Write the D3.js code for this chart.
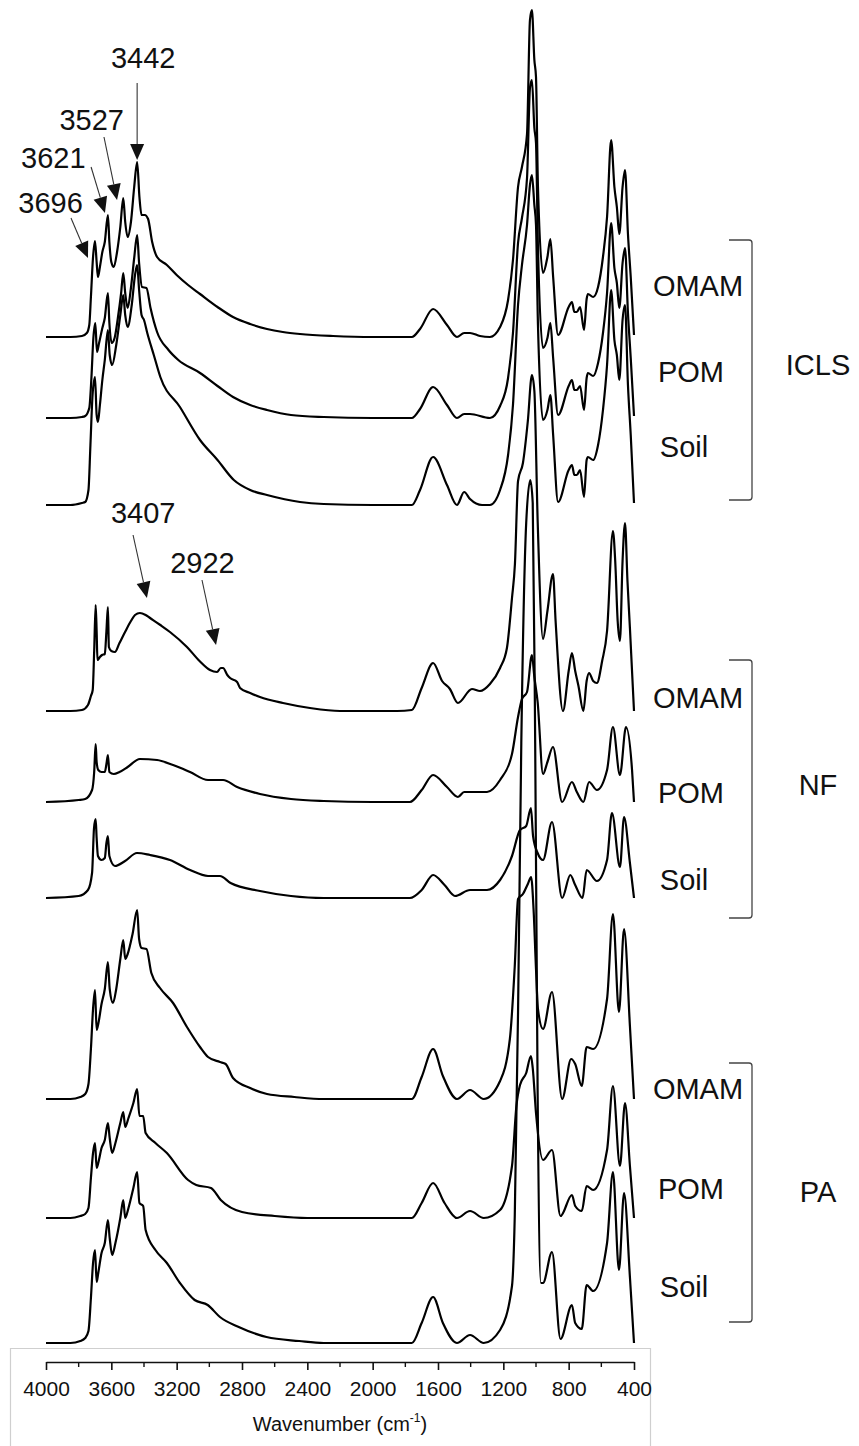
<!DOCTYPE html>
<html>
<head>
<meta charset="utf-8">
<script src="https://cdn.jsdelivr.net/npm/d3@7"></script>
<style>
body { margin: 0; background: #fff; }
text { font-family: "Liberation Sans", Arial, sans-serif; fill: #111; }
</style>
</head>
<body>
<div id="vis"></div>
<script>
// FTIR spectra, intensity in arbitrary units, [wavenumber, intensity]
var iclsOmam = [[4000,0],[3850,0],[3780,1],[3750,4],[3735,12],[3725,40],[3712,80],[3700,96],[3690,75],[3682,60],[3670,70],[3655,85],[3640,95],[3621,122],[3612,95],[3600,75],[3585,70],[3565,85],[3545,110],[3527,139],[3515,115],[3500,100],[3480,115],[3460,150],[3442,175],[3428,140],[3415,122],[3395,122],[3375,118],[3350,95],[3320,80],[3260,72],[3200,62],[3130,52],[3057,43],[2950,30],[2855,20],[2750,13],[2647,8],[2550,5],[2445,3],[2243,1],[2000,0],[1850,0],[1760,0],[1710,8],[1630,28],[1545,12],[1484,0],[1440,4],[1404,4],[1343,1],[1282,0],[1220,10],[1171,37],[1141,77],[1110,150],[1086,170],[1055,203],[1037,317],[1025,327],[1010,277],[1000,260],[988,150],[957,64],[930,80],[912,98],[895,60],[865,2],[800,30],[780,35],[765,25],[750,25],[730,30],[706,7],[690,38],[682,43],[650,40],[620,50],[590,80],[565,120],[540,197],[520,150],[505,130],[490,103],[470,150],[455,167],[437,103],[420,60],[400,2]];
var iclsPom = [[4000,0],[3850,0],[3780,1],[3760,2],[3735,10],[3722,40],[3710,80],[3698,95],[3688,66],[3675,75],[3655,90],[3640,100],[3621,125],[3612,95],[3598,75],[3580,80],[3560,100],[3540,125],[3527,145],[3515,125],[3500,110],[3480,130],[3460,160],[3442,183],[3430,155],[3412,131],[3385,130],[3360,110],[3320,86],[3250,68],[3190,58],[3057,45],[2950,32],[2855,21],[2750,13],[2647,8],[2500,3],[2300,1],[2000,0],[1850,0],[1760,0],[1710,9],[1630,31],[1545,13],[1484,0],[1440,4],[1404,4],[1282,0],[1220,12],[1171,40],[1141,85],[1110,175],[1086,200],[1055,240],[1037,330],[1025,338],[1010,290],[1000,275],[988,170],[957,70],[930,80],[912,95],[895,60],[865,3],[800,32],[780,38],[765,28],[750,28],[730,32],[706,8],[690,40],[682,45],[650,42],[620,55],[590,85],[565,125],[540,195],[520,150],[505,135],[490,110],[470,155],[455,170],[437,105],[420,60],[400,2]];
var iclsSoil = [[4000,0],[3850,0],[3780,2],[3760,3],[3740,15],[3728,60],[3715,110],[3700,128],[3690,90],[3682,83],[3670,100],[3655,125],[3640,145],[3621,175],[3610,150],[3595,140],[3570,160],[3545,190],[3527,210],[3515,190],[3500,178],[3475,200],[3455,230],[3442,240],[3430,215],[3415,190],[3400,185],[3380,172],[3340,150],[3300,128],[3180,98],[3057,65],[2950,45],[2850,25],[2750,15],[2647,10],[2445,3],[2300,1],[2000,0],[1850,0],[1760,0],[1710,15],[1630,48],[1545,20],[1484,0],[1440,13],[1404,6],[1330,0],[1282,0],[1220,15],[1171,50],[1141,100],[1110,200],[1086,240],[1055,280],[1037,320],[1025,330],[1010,300],[1000,280],[988,180],[957,85],[930,95],[912,110],[895,70],[865,3],[800,35],[780,40],[765,30],[750,30],[730,35],[706,8],[690,45],[682,48],[650,45],[620,60],[590,95],[565,140],[540,215],[520,165],[505,150],[490,125],[470,185],[455,200],[437,120],[420,70],[400,2]];

var nfOmam = [[4000,0],[3850,0],[3780,1],[3743,6],[3725,15],[3714,21],[3705,60],[3696,106],[3690,80],[3685,51],[3670,54],[3657,56],[3640,57],[3630,80],[3621,104],[3615,64],[3600,60],[3578,59],[3550,68],[3516,79],[3480,90],[3455,96],[3425,98],[3390,96],[3363,93],[3300,86],[3241,79],[3137,64],[3060,50],[2996,41],[2953,39],[2930,43],[2916,43],[2890,36],[2873,33],[2830,29],[2812,23],[2750,18],[2690,14],[2549,8],[2384,3],[2200,0],[2000,0],[1850,0],[1760,1],[1700,23],[1630,48],[1575,30],[1527,22],[1478,8],[1392,22],[1343,20],[1282,27],[1220,43],[1178,63],[1147,113],[1129,147],[1110,230],[1080,248],[1050,290],[1025,336],[1010,320],[990,191],[957,72],[930,100],[896,137],[880,90],[835,0],[800,40],[780,58],[760,40],[740,25],[710,0],[690,30],[675,38],[650,30],[627,28],[595,50],[565,80],[529,180],[515,150],[500,90],[486,70],[470,150],[455,188],[440,130],[425,83],[400,0]];
var nfPom = [[4000,0],[3800,2],[3760,3],[3718,12],[3705,30],[3696,58],[3690,40],[3680,32],[3660,30],[3640,30],[3630,38],[3621,47],[3612,30],[3585,28],[3550,30],[3500,35],[3425,43],[3320,42],[3222,37],[3118,30],[3008,22],[2960,22],[2916,22],[2830,15],[2690,8],[2500,3],[2300,1],[2000,0],[1850,0],[1772,0],[1700,12],[1630,27],[1545,15],[1478,5],[1440,10],[1300,10],[1220,22],[1147,48],[1110,85],[1086,103],[1055,110],[1025,147],[1010,125],[990,100],[957,28],[930,40],[896,55],[840,0],[780,20],[750,10],[710,0],[675,20],[627,12],[565,32],[529,75],[486,27],[449,75],[412,32],[400,0]];
var nfSoil = [[4000,0],[3800,2],[3743,8],[3718,25],[3706,70],[3696,79],[3690,60],[3682,42],[3660,38],[3640,40],[3630,55],[3621,62],[3612,42],[3578,32],[3516,37],[3443,45],[3363,43],[3241,38],[3118,28],[3008,22],[2935,22],[2870,15],[2690,7],[2500,2],[2300,0],[2000,0],[1850,0],[1772,0],[1700,8],[1630,23],[1560,13],[1496,2],[1404,8],[1300,8],[1220,18],[1147,42],[1098,68],[1060,72],[1031,90],[1018,62],[990,45],[957,38],[902,76],[840,0],[790,23],[760,13],[715,0],[690,28],[627,17],[565,38],[535,85],[486,31],[461,81],[425,35],[400,0]];

var paOmam = [[4000,0],[3850,0],[3790,2],[3760,5],[3740,15],[3725,50],[3712,90],[3700,109],[3690,69],[3680,75],[3660,95],[3640,110],[3621,137],[3610,110],[3590,96],[3570,110],[3545,140],[3527,159],[3515,140],[3500,145],[3470,165],[3442,189],[3430,160],[3415,151],[3385,150],[3355,126],[3302,111],[3222,96],[3137,72],[3057,52],[3008,42],[2935,37],[2900,35],[2855,21],[2750,11],[2647,5],[2480,2],[2300,0],[2000,0],[1850,0],[1760,0],[1700,22],[1630,50],[1570,23],[1484,0],[1404,9],[1320,0],[1220,18],[1160,60],[1130,133],[1110,200],[1080,205],[1050,215],[1030,222],[1015,190],[1000,130],[988,90],[957,70],[902,107],[840,0],[785,40],[760,35],[720,13],[690,52],[650,50],[565,100],[529,185],[492,87],[461,170],[425,73],[400,0]];
var paPom = [[4000,0],[3850,0],[3790,2],[3760,4],[3740,10],[3725,40],[3712,65],[3700,75],[3690,50],[3680,55],[3660,70],[3640,78],[3621,95],[3610,80],[3595,65],[3575,75],[3545,95],[3527,106],[3515,91],[3495,100],[3465,115],[3442,129],[3428,102],[3405,102],[3390,85],[3330,75],[3260,65],[3130,38],[3080,33],[2990,30],[2930,18],[2800,6],[2600,2],[2400,0],[2000,0],[1850,0],[1760,0],[1700,15],[1630,35],[1560,15],[1484,0],[1404,7],[1320,0],[1220,8],[1147,52],[1120,112],[1098,133],[1060,145],[1031,162],[1020,150],[1000,105],[957,58],[902,68],[850,2],[780,23],[760,12],[720,7],[690,32],[650,28],[565,68],[529,132],[486,52],[455,115],[425,52],[400,0]];
var paSoil = [[4000,0],[3850,0],[3790,2],[3760,5],[3740,12],[3725,45],[3712,80],[3700,93],[3690,61],[3680,70],[3660,90],[3640,100],[3621,123],[3610,105],[3595,88],[3575,100],[3545,125],[3527,143],[3515,125],[3495,135],[3465,155],[3442,171],[3428,140],[3405,137],[3390,113],[3330,93],[3260,80],[3180,60],[3090,43],[3010,38],[2935,26],[2820,16],[2650,6],[2450,2],[2300,0],[2000,0],[1850,0],[1760,0],[1700,20],[1630,46],[1570,20],[1484,0],[1404,8],[1320,0],[1220,13],[1147,57],[1130,127],[1110,330],[1090,600],[1060,820],[1035,863],[1020,840],[1005,600],[990,250],[970,60],[957,60],[902,91],[850,4],[780,38],[760,20],[720,14],[690,58],[650,52],[565,100],[529,171],[492,73],[461,150],[425,66],[400,0]];

var spectra = [iclsOmam, iclsPom, iclsSoil, nfOmam, nfPom, nfSoil, paOmam, paPom, paSoil];
var offsets = [1006, 925, 838, 632, 541, 445, 244, 125, 0];
var samples = ["OMAM", "POM", "Soil"];
var groups = ["ICLS", "NF", "PA"];
var xTicks = [4000, 3600, 3200, 2800, 2400, 2000, 1600, 1200, 800, 400];
var xMinorTicks = [3800, 3400, 3000, 2600, 2200, 1800, 1400, 1000, 600];

// peak labels: text, arrow tip, arrow tail, label anchor (wavenumber, stacked intensity)
var peaks = [
  {text: "3442", tip: [3442, 1183], tail: [3442, 1260], at: [3405, 1275]},
  {text: "3527", tip: [3565, 1143], tail: [3645, 1206], at: [3720, 1213]},
  {text: "3621", tip: [3639, 1130], tail: [3724, 1176], at: [3955, 1175]},
  {text: "3696", tip: [3743, 1085], tail: [3847, 1125], at: [3972, 1130]},
  {text: "3407", tip: [3382, 745], tail: [3467, 808], at: [3405, 820]},
  {text: "2922", tip: [2959, 698], tail: [3045, 763], at: [3042, 770]}
];

var W = 859, H = 1446;
var svg = d3.select('#vis').append('svg').attr('width', W).attr('height', H);

var x = d3.scaleLinear().domain([4000, 400]).range([46, 634]);
var y = d3.scaleLinear().domain([0, 1343]).range([1343, 0]);

// axis frame
svg.append('path')
  .attr('d', 'M10.5,1446 V1348.5 H650.5 V1446')
  .attr('fill', 'none').attr('stroke', '#cfcfcf').attr('stroke-width', 1.2);

var line = d3.line()
  .x(function(d) { return x(d[0]); })
  .curve(d3.curveMonotoneX);

svg.selectAll('path.spec')
  .data(spectra).enter().append('path')
  .attr('class', 'spec')
  .attr('d', function(d, i) {
    return line.y(function(p) { return y(p[1] + offsets[i]); })(d);
  })
  .attr('fill', 'none')
  .attr('stroke', '#000')
  .attr('stroke-width', 2.2)
  .attr('stroke-linejoin', 'round');

// x axis
var axisY = 1362;
var ax = svg.append('g').attr('transform', 'translate(0,' + axisY + ')');
ax.call(d3.axisBottom(x).tickValues(xTicks).tickSize(8).tickSizeOuter(0).tickFormat(d3.format('d')));
ax.selectAll('.tick').data(xMinorTicks, function(d) { return d; });
ax.select('.domain').attr('stroke', '#111').attr('stroke-width', 1.6);
ax.selectAll('.tick line').attr('stroke', '#111').attr('stroke-width', 1.6);
ax.selectAll('.tick text')
  .attr('y', 19).attr('font-size', 21).attr('fill', '#111')
  .attr('font-family', '"Liberation Sans", Arial, sans-serif');
ax.selectAll('line.minor')
  .data(xMinorTicks).enter().append('line')
  .attr('class', 'minor')
  .attr('x1', function(d) { return x(d); }).attr('x2', function(d) { return x(d); })
  .attr('y1', 0).attr('y2', 5)
  .attr('stroke', '#111').attr('stroke-width', 1.4);

var title = svg.append('text')
  .attr('x', (x(4000) + x(400)) / 2).attr('y', 1431)
  .attr('text-anchor', 'middle').attr('font-size', 20);
title.append('tspan').text('Wavenumber (cm');
title.append('tspan').text('-1').attr('font-size', 12).attr('dy', -9);
title.append('tspan').text(')').attr('dy', 9);

// peak annotations
svg.selectAll('text.peak')
  .data(peaks).enter().append('text')
  .attr('class', 'peak')
  .attr('x', function(d) { return x(d.at[0]); })
  .attr('y', function(d) { return y(d.at[1]); })
  .attr('text-anchor', 'middle')
  .attr('font-size', 29)
  .text(function(d) { return d.text; });

peaks.forEach(function(d) {
  var x1 = x(d.tail[0]), y1 = y(d.tail[1]), x2 = x(d.tip[0]), y2 = y(d.tip[1]);
  var a = Math.atan2(y2 - y1, x2 - x1), len = 16, hw = 7;
  var bx = x2 - len * Math.cos(a), by = y2 - len * Math.sin(a);
  svg.append('line')
    .attr('x1', x1).attr('y1', y1).attr('x2', bx).attr('y2', by)
    .attr('stroke', '#333').attr('stroke-width', 1.1);
  svg.append('path')
    .attr('d', 'M' + x2 + ',' + y2 +
      'L' + (bx + hw * Math.sin(a)) + ',' + (by - hw * Math.cos(a)) +
      'L' + (bx - hw * Math.sin(a)) + ',' + (by + hw * Math.cos(a)) + 'Z')
    .attr('fill', '#111');
});

// sample labels and group brackets
var bracketTop = [240, 660, 1063], bracketBottom = [500, 918, 1322];
var sampleY = [[285, 371, 446], [697, 792, 879], [1088, 1188, 1286]];
var groupY = [364, 784, 1191];
groups.forEach(function(g, gi) {
  samples.forEach(function(s, si) {
    svg.append('text')
      .attr('x', s === 'Soil' ? 684 : (s === 'POM' ? 691 : 698))
      .attr('y', sampleY[gi][si] + 11)
      .attr('text-anchor', 'middle').attr('font-size', 29)
      .text(s);
  });
  var t = bracketTop[gi], b = bracketBottom[gi], bx = 752;
  svg.append('path')
    .attr('d', 'M729,' + t + ' H' + (bx - 3) + ' Q' + bx + ',' + t + ' ' + bx + ',' + (t + 3) +
      ' V' + (b - 3) + ' Q' + bx + ',' + b + ' ' + (bx - 3) + ',' + b + ' H729')
    .attr('fill', 'none').attr('stroke', '#444').attr('stroke-width', 1.3);
  svg.append('text')
    .attr('x', 818).attr('y', groupY[gi] + 11)
    .attr('text-anchor', 'middle').attr('font-size', 29)
    .text(g);
});
</script>
</body>
</html>
